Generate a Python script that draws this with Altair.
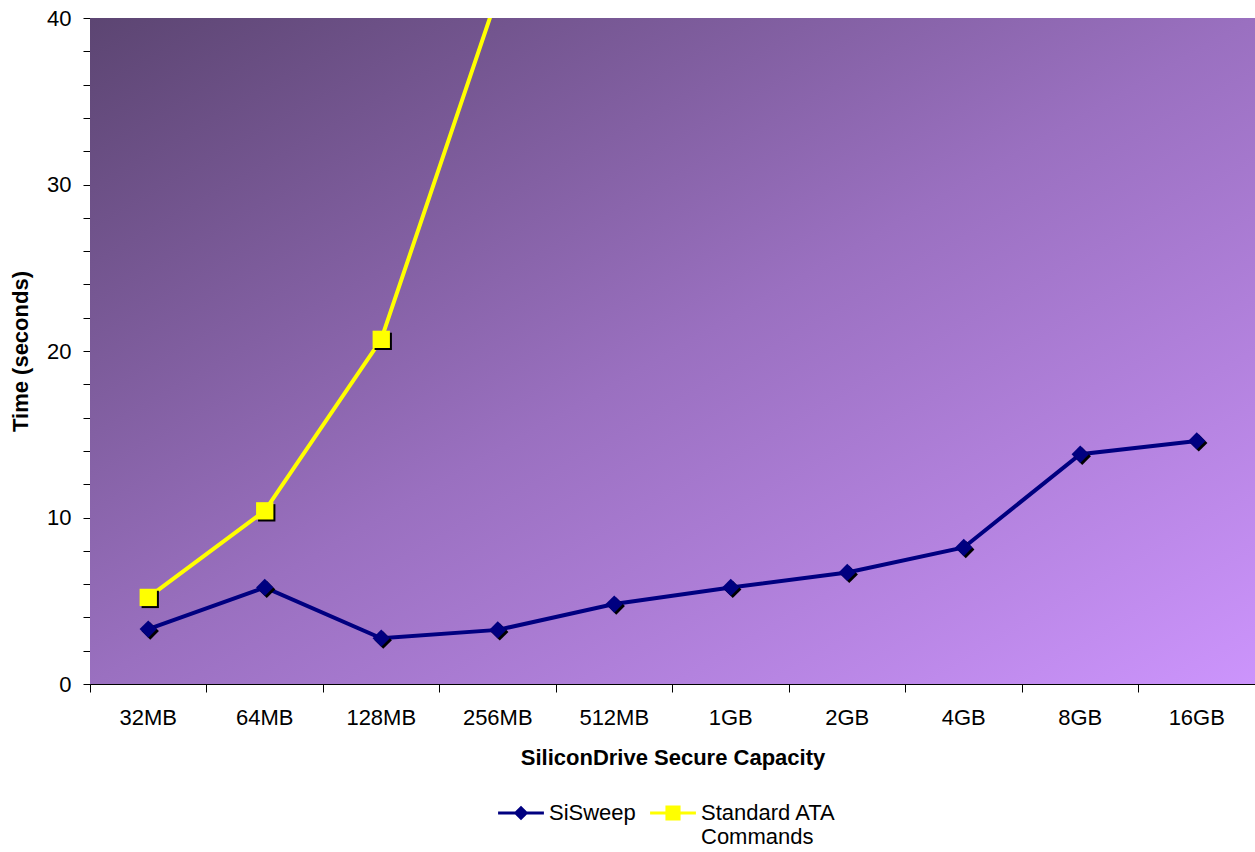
import altair as alt
import pandas as pd

capacities = ["32MB", "64MB", "128MB", "256MB", "512MB", "1GB", "2GB", "4GB", "8GB", "16GB"]
sisweep = [3.3, 5.8, 2.75, 3.25, 4.8, 5.8, 6.7, 8.2, 13.8, 14.6]
ata_caps = ["32MB", "64MB", "128MB", "256MB"]
ata = [5.2, 10.4, 20.7, 41.4]
series_names = ["SiSweep", "Standard ATA Commands"]
series_colors = ["#000080", "#FFFF00"]
series_shapes = ["diamond", "square"]
y_ticks = list(range(0, 41, 2))

rows = [{"series": series_names[0], "capacity": c, "time": v} for c, v in zip(capacities, sisweep)]
rows += [{"series": series_names[1], "capacity": c, "time": v} for c, v in zip(ata_caps, ata)]
df = pd.DataFrame(rows)

W, H = 1165, 666
FONT = "Liberation Sans"
FS = 22

x_enc = alt.X("capacity:N", sort=capacities, title="SiliconDrive Secure Capacity",
              scale=alt.Scale(type="band", domain=capacities, paddingInner=0, paddingOuter=0),
              axis=alt.Axis(labelAngle=0, bandPosition=0,
                            tickSize=8, tickColor="#000000", domainColor="#000000",
                            labelPadding=15, titlePadding=19))
y_enc = alt.Y("time:Q", title="Time (seconds)",
              scale=alt.Scale(domain=[0, 40], nice=False),
              axis=alt.Axis(values=y_ticks,
                            labelExpr="datum.value % 10 === 0 ? datum.label : ''",
                            grid=True, gridColor="#000000",
                            gridOpacity={"condition": {"test": "datum.value % 10 === 0 && datum.value > 0", "value": 1}, "value": 0},
                            tickSize=7, tickColor="#000000", domainColor="#000000",
                            labelPadding=12, titlePadding=14))
color_scale = alt.Scale(domain=series_names, range=series_colors)

bg = alt.Chart(alt.Data(values=[{}])).mark_rect(
    color=alt.Gradient(gradient="linear", x1=0, y1=0, x2=1, y2=1,
                       stops=[alt.GradientStop(color="#5c4572", offset=0),
                              alt.GradientStop(color="#9a70c0", offset=0.5),
                              alt.GradientStop(color="#cc94fc", offset=1)])
).encode(x=alt.value(0), x2=alt.value(W), y=alt.value(0), y2=alt.value(H))

base = alt.Chart(df)

lines, shadows, fronts = [], [], []
for name, col, shape in zip(series_names, series_colors, series_shapes):
    sub = base.transform_filter(alt.datum.series == name)
    lines.append(sub.mark_line(strokeWidth=4, color=col, clip=True).encode(x=x_enc, y=y_enc))
    shadows.append(sub.mark_point(shape=shape, filled=True, size=300, color="#000000",
                                  opacity=1, xOffset=2, yOffset=2, clip=True).encode(x=x_enc, y=y_enc))
    fronts.append(sub.mark_point(shape=shape, filled=True, size=300, color=col,
                                 opacity=1, clip=True).encode(x=x_enc, y=y_enc))

legend_paths = [
    "M-1,-0.07H1V0.07H-1Z M-0.32,0L0,-0.32L0.32,0L0,0.32Z",
    "M-1,-0.07H1V0.07H-1Z M-0.33,-0.33H0.33V0.33H-0.33Z",
]
legend_layer = base.mark_point(filled=True, size=0, strokeWidth=0, opacity=1).encode(
    x=x_enc, y=y_enc,
    color=alt.Color("series:N", scale=color_scale,
                    legend=alt.Legend(title=None, orient="none", direction="horizontal",
                                      legendX=408, legendY=772, symbolSize=2100,
                                      symbolStrokeWidth=0, symbolOpacity=1, columnPadding=14,
                                      labelFontSize=FS, labelFont=FONT, labelColor="#000000",
                                      labelOffset=5, labelLimit=400,
                                      labelExpr="datum.label === 'Standard ATA Commands' ? ['Standard ATA', '\u00a0\u00a0Commands'] : [datum.label, '\u00a0']")),
    shape=alt.Shape("series:N", scale=alt.Scale(domain=series_names, range=legend_paths)),
)

chart = alt.layer(bg, *lines, *shadows, *fronts, legend_layer).properties(
    width=W, height=H,
    autosize=alt.AutoSizeParams(type="none"),
    padding={"left": 90, "top": 18, "right": 0, "bottom": 168},
    background="#ffffff",
).configure_view(strokeWidth=0).configure_axis(
    labelFont=FONT, labelFontSize=FS, labelColor="#000000",
    titleFont=FONT, titleFontSize=FS, titleFontWeight="bold", titleColor="#000000",
)

chart.save("out.html", embed_options={"renderer": "svg", "actions": False})
